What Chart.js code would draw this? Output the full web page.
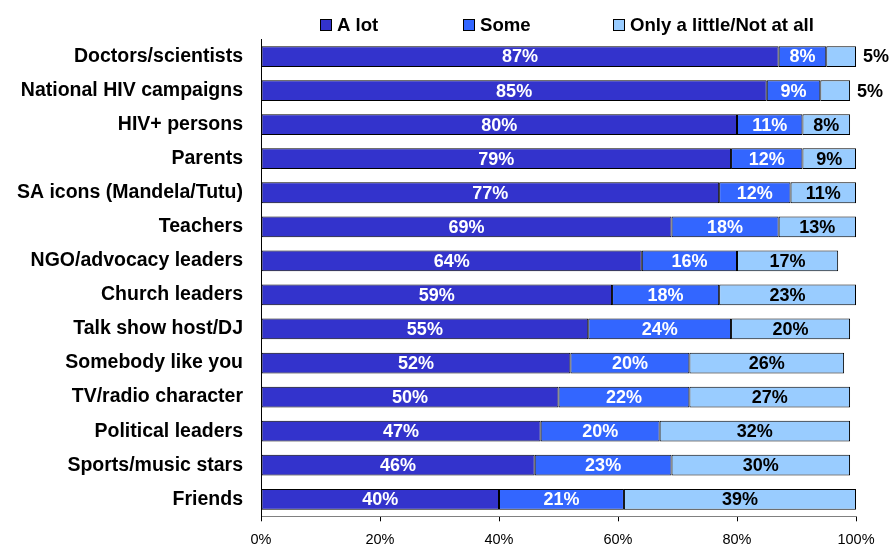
<!DOCTYPE html>
<html>
<head>
<meta charset="utf-8">
<script src="https://cdn.jsdelivr.net/npm/chart.js@4/dist/chart.umd.min.js"></script>
<style>
  html, body { margin: 0; padding: 0; background: #ffffff; }
  #wrap { width: 890px; height: 546px; }
</style>
</head>
<body>
<div id="wrap"><canvas id="c" width="890" height="546"></canvas></div>
<script>
// Sources of HIV information and how much each is trusted (% of respondents)
const categories = [
  'Doctors/scientists', 'National HIV campaigns', 'HIV+ persons', 'Parents',
  'SA icons (Mandela/Tutu)', 'Teachers', 'NGO/advocacy leaders', 'Church leaders',
  'Talk show host/DJ', 'Somebody like you', 'TV/radio character',
  'Political leaders', 'Sports/music stars', 'Friends'
];
const aLot =   [87, 85, 80, 79, 77, 69, 64, 59, 55, 52, 50, 47, 46, 40];
const some =   [ 8,  9, 11, 12, 12, 18, 16, 18, 24, 20, 22, 20, 23, 21];
const little = [ 5,  5,  8,  9, 11, 13, 17, 23, 20, 26, 27, 32, 30, 39];
const seriesNames = ['A lot', 'Some', 'Only a little/Not at all'];
const seriesColors = ['#3333CC', '#3366FF', '#99CCFF'];
const valueColors = ['#ffffff', '#ffffff', '#000000'];
const xTicks = [0, 20, 40, 60, 80, 100];

const FONT = '"Liberation Sans", Arial, sans-serif';

// Percentage labels inside each segment; narrow segments get theirs past the bar end
const segmentLabels = {
  id: 'segmentLabels',
  afterDatasetsDraw(chart) {
    const ctx = chart.ctx;
    ctx.save();
    ctx.font = 'bold 18px ' + FONT;
    ctx.textBaseline = 'middle';
    chart.data.datasets.forEach((ds, di) => {
      const meta = chart.getDatasetMeta(di);
      meta.data.forEach((bar, i) => {
        const v = ds.data[i];
        const txt = v + '%';
        if (v < 6) {
          ctx.textAlign = 'left';
          ctx.fillStyle = '#000000';
          ctx.fillText(txt, bar.x + 7, bar.y + 1);
        } else {
          ctx.textAlign = 'center';
          ctx.fillStyle = valueColors[di];
          ctx.fillText(txt, (bar.x + bar.base) / 2, bar.y + 1);
        }
      });
    });
    ctx.restore();
  }
};

// Legend row across the top: framed colour swatch followed by the series name
const topLegend = {
  id: 'topLegend',
  afterDraw(chart) {
    const ctx = chart.ctx;
    const swatchX = [320, 463, 613];
    const cy = 25;
    ctx.save();
    ctx.font = 'bold 18.6px ' + FONT;
    ctx.textBaseline = 'middle';
    ctx.textAlign = 'left';
    seriesNames.forEach((name, i) => {
      ctx.fillStyle = seriesColors[i];
      ctx.fillRect(swatchX[i] + 0.5, cy - 6 + 0.5, 11, 11);
      ctx.strokeStyle = '#000000';
      ctx.lineWidth = 1;
      ctx.strokeRect(swatchX[i] + 0.5, cy - 6 + 0.5, 11, 11);
      ctx.fillStyle = '#000000';
      ctx.fillText(name, swatchX[i] + 17, cy + 1);
    });
    ctx.restore();
  }
};

new Chart(document.getElementById('c'), {
  type: 'bar',
  data: {
    labels: categories,
    datasets: [aLot, some, little].map((vals, i) => ({
      label: seriesNames[i],
      data: vals,
      backgroundColor: seriesColors[i],
      borderColor: '#000000',
      borderWidth: 1,
      borderSkipped: false,
      barPercentage: 0.61,
      categoryPercentage: 1.0
    }))
  },
  options: {
    indexAxis: 'y',
    responsive: false,
    animation: false,
    devicePixelRatio: 1,
    layout: { padding: { left: 0, right: 34, top: 39.5, bottom: 0 } },
    plugins: {
      legend: { display: false },
      tooltip: { enabled: false }
    },
    scales: {
      x: {
        stacked: true,
        min: 0,
        max: 100,
        afterBuildTicks(axis) { axis.ticks = xTicks.map(v => ({ value: v })); },
        afterFit(axis) { axis.height = 28; },
        ticks: {
          callback: v => v + '%',
          font: { family: FONT, size: 14.5 },
          color: '#000000',
          padding: 10,
          maxRotation: 0
        },
        grid: {
          drawOnChartArea: false,
          drawTicks: true,
          tickLength: 5,
          color: '#000000'
        },
        border: { color: '#808080', width: 1 }
      },
      y: {
        stacked: true,
        afterFit(axis) { axis.width = 261; },
        ticks: {
          font: { family: FONT, size: 19.5, weight: 'bold' },
          color: '#000000',
          padding: 18
        },
        grid: { display: false, drawTicks: false },
        border: { color: '#000000', width: 1 }
      }
    }
  },
  plugins: [segmentLabels, topLegend]
});
</script>
</body>
</html>
